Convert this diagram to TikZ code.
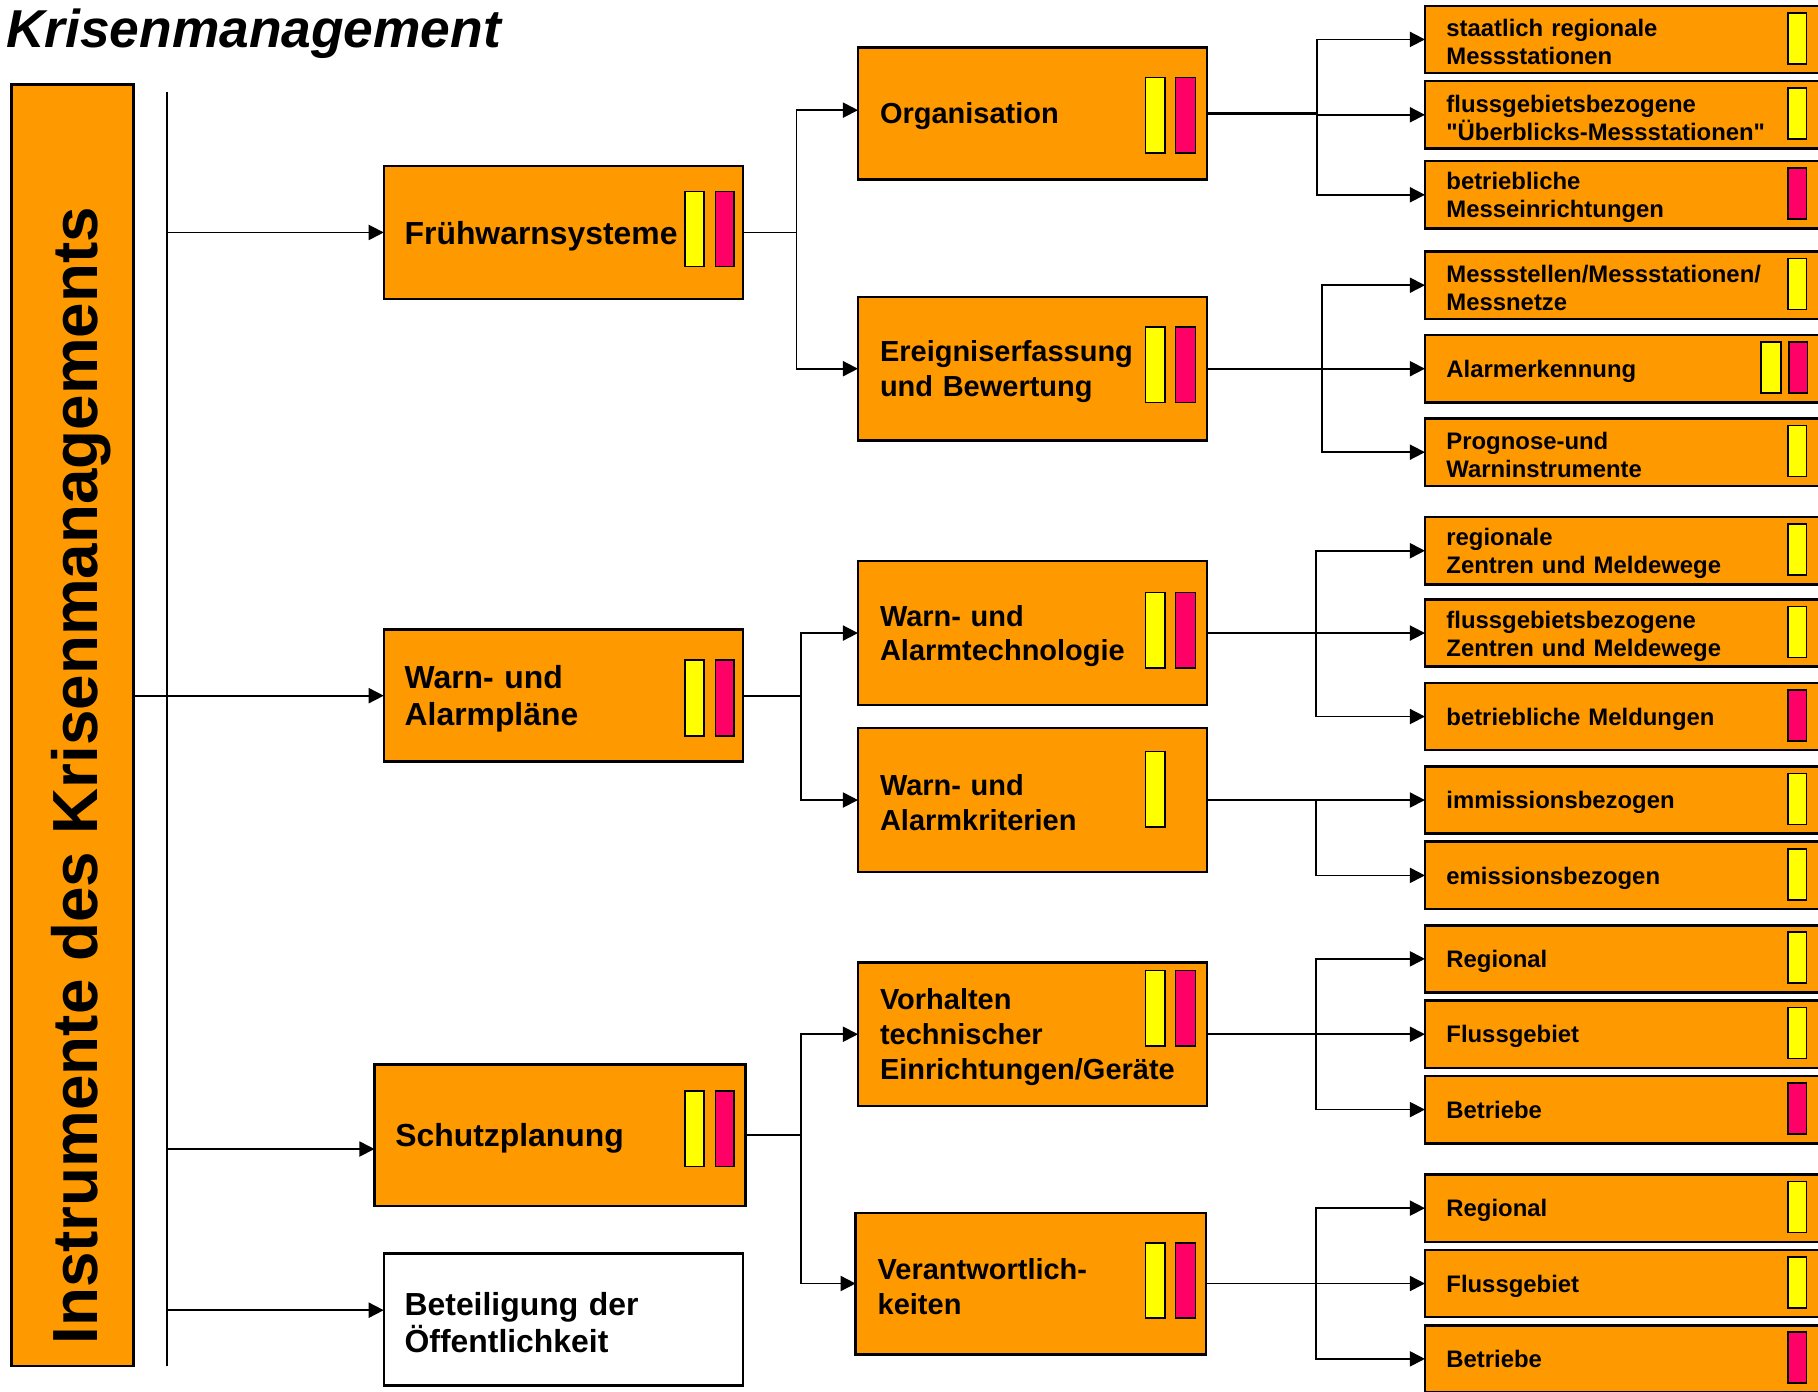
\documentclass[tikz,border=0pt]{standalone}
\usepackage{fontspec}
\setmainfont{Liberation Sans}[Ligatures=TeXOff]
\usetikzlibrary{arrows.meta}
\definecolor{boxorange}{HTML}{FF9900}
\definecolor{myyellow}{HTML}{FFFF00}
\definecolor{myred}{HTML}{FF0066}
\begin{document}
\begin{tikzpicture}[x=1pt,y=-1pt,
  box/.style={draw=black, line width=2.2pt, fill=boxorange, anchor=north west,
    align=left, inner ysep=0pt, outer sep=0pt, text=black},
  lowered/.style={execute at end node={\endgraf\vskip-#1\relax\hrule height 0pt\relax}},
  boxA/.style={box, lowered=6pt, inner xsep=18pt, text width=274pt, minimum height=115pt,
    font=\fontsize{27.5}{32}\selectfont\bfseries},
  boxB/.style={box, lowered=5pt, inner xsep=19pt, text width=263pt, minimum height=124pt,
    font=\fontsize{25}{30}\selectfont\bfseries},
  boxC/.style={box, lowered=5pt, inner xsep=18.5pt, text width=323pt, minimum height=58pt,
    font=\fontsize{20.6}{24}\selectfont\bfseries},
  arr/.style={draw=black, line width=1.5pt, -{Triangle[length=13pt,width=13pt]}},
  trunkline/.style={draw=black, line width=1.8pt},
  ymk/.style={draw=black, line width=1.4pt, fill=myyellow},
  rmk/.style={draw=black, line width=1.4pt, fill=myred}]
\useasboundingbox (0,0) rectangle (1568,1200);
\clip (0,0) rectangle (1568,1200);

% title
\node[anchor=base west, inner sep=0pt, font=\fontsize{46}{52}\selectfont\bfseries\itshape] (title) at (5,41) {Krisenmanagement};

% left bar
\node[box, minimum width=105pt, minimum height=1105pt, inner sep=0pt] (bar) at (10,73) {};
\node[rotate=90, anchor=base, inner sep=0pt, font=\fontsize{55}{60}\selectfont\bfseries] (bartext) at (84,669) {Instrumente des Krisenmanagements};

% trunk
\coordinate (ttop) at (144,79);
\coordinate (tbot) at (144,1178);
\draw[trunkline] (ttop) -- (tbot);

% level 1
\node[boxA] (fw) at (331,143) {Frühwarnsysteme};
\node[boxA, minimum height=114pt] (wa) at (331,543) {Warn- und\\Alarmpläne};
\node[boxA, text width=284pt, minimum height=122pt] (sp) at (323,918) {Schutzplanung};
\node[boxA, fill=white, minimum height=114pt] (bo) at (331,1081) {Beteiligung der\\Öffentlichkeit};

% level 2
\node[boxB, minimum height=114pt] (org) at (740,41) {Organisation};
\node[boxB] (ere) at (740,256) {Ereigniserfassung\\und Bewertung};
\node[boxB] (wat) at (740,484) {Warn- und\\Alarmtechnologie};
\node[boxB] (wak) at (740,628) {Warn- und\\Alarmkriterien};
\node[boxB] (vor) at (740,830) {Vorhalten\\technischer\\Einrichtungen/Geräte};
\node[boxB, text width=264pt, minimum height=122pt] (ver) at (738,1046) {Verantwortlich-\\keiten};

% level 3
\node[boxC] (c1) at (1229,5) {staatlich regionale\\Messstationen};
\node[boxC] (c2) at (1229,70) {flussgebietsbezogene\\"Überblicks-Messstationen"};
\node[boxC] (c3) at (1229,139) {betriebliche\\Messeinrichtungen};
\node[boxC] (c4) at (1229,217) {Messstellen/Messstationen/\\Messnetze};
\node[boxC] (c5) at (1229,289) {Alarmerkennung};
\node[boxC] (c6) at (1229,361) {Prognose-und\\Warninstrumente};
\node[boxC] (c7) at (1229,446) {regionale\\Zentren und Meldewege};
\node[boxC] (c8) at (1229,517) {flussgebietsbezogene\\Zentren und Meldewege};
\node[boxC] (c9) at (1229,589) {betriebliche Meldungen};
\node[boxC] (c10) at (1229,661) {immissionsbezogen};
\node[boxC] (c11) at (1229,726) {emissionsbezogen};
\node[boxC] (c12) at (1229,798) {Regional};
\node[boxC] (c13) at (1229,863) {Flussgebiet};
\node[boxC] (c14) at (1229,928) {Betriebe};
\node[boxC] (c15) at (1229,1013) {Regional};
\node[boxC] (c16) at (1229,1078) {Flussgebiet};
\node[boxC] (c17) at (1229,1143) {Betriebe};

% markers level 1
\draw[ymk] (591,165) rectangle (607,230);  \draw[rmk] (617,165) rectangle (633,230);
\draw[ymk] (591,569) rectangle (607,635);  \draw[rmk] (617,569) rectangle (633,635);
\draw[ymk] (591,941) rectangle (607,1006); \draw[rmk] (617,941) rectangle (633,1006);
% markers level 2
\draw[ymk] (988,67) rectangle (1005,132);   \draw[rmk] (1014,67) rectangle (1031,132);
\draw[ymk] (988,282) rectangle (1005,347);  \draw[rmk] (1014,282) rectangle (1031,347);
\draw[ymk] (988,511) rectangle (1005,576);  \draw[rmk] (1014,511) rectangle (1031,576);
\draw[ymk] (988,648) rectangle (1005,713);
\draw[ymk] (988,837) rectangle (1005,902);  \draw[rmk] (1014,837) rectangle (1031,902);
\draw[ymk] (988,1072) rectangle (1005,1137); \draw[rmk] (1014,1072) rectangle (1031,1137);
% markers level 3
\foreach \t in {5,70,217,361,446,517,661,726,798,863,1013,1078}
  \draw[ymk] (1542,\t+6) rectangle (1558,\t+50);
\foreach \t in {139,589,928,1143}
  \draw[rmk] (1542,\t+6) rectangle (1558,\t+50);
\draw[ymk] (1519,295) rectangle (1536,339);
\draw[rmk] (1543,295) rectangle (1559,339);

% root connectors
\draw[arr] (fw.west -| ttop) -- (fw.west);
\draw[arr] (wa.west -| bar.east) -- (wa.west);
\draw[arr] ([yshift=-12pt]sp.west -| ttop) -- ([yshift=-12pt]sp.west);
\draw[arr] ([yshift=8pt]bo.west -| ttop) -- ([yshift=8pt]bo.west);

% level 1 -> level 2
\coordinate (bfw) at (687,0);
\coordinate (bwa) at (691,0);
\coordinate (bsp) at (691,0);
\draw[arr] (fw.east) -- (fw.east -| bfw) |- ([yshift=3pt]org.west);
\draw[arr] (fw.east) -- (fw.east -| bfw) |- (ere.west);
\draw[arr] (wa.east) -- (wa.east -| bwa) |- (wat.west);
\draw[arr] (wa.east) -- (wa.east -| bwa) |- (wak.west);
\draw[arr] (sp.east) -- (sp.east -| bsp) |- (vor.west);
\draw[arr] (sp.east) -- (sp.east -| bsp) |- (ver.west);

% level 2 -> level 3
\coordinate (borg) at (1136,0);
\coordinate (bere) at (1140,0);
\coordinate (bwat) at (1135,0);
\coordinate (bwak) at (1135,0);
\coordinate (bvor) at (1135,0);
\coordinate (bver) at (1135,0);
\draw[draw=black, line width=2.6pt] (org.east) -- (org.east -| borg);
\foreach \c in {c1,c2,c3} \draw[arr] (org.east) -- (org.east -| borg) |- (\c.west);
\foreach \c in {c4,c5,c6} \draw[arr] (ere.east) -- (ere.east -| bere) |- (\c.west);
\foreach \c in {c7,c8,c9} \draw[arr] (wat.east) -- (wat.east -| bwat) |- (\c.west);
\foreach \c in {c10,c11} \draw[arr] (wak.east) -- (wak.east -| bwak) |- (\c.west);
\foreach \c in {c12,c13,c14} \draw[arr] (vor.east) -- (vor.east -| bvor) |- (\c.west);
\foreach \c in {c15,c16,c17} \draw[arr] (ver.east) -- (ver.east -| bver) |- (\c.west);
\end{tikzpicture}
\end{document}
